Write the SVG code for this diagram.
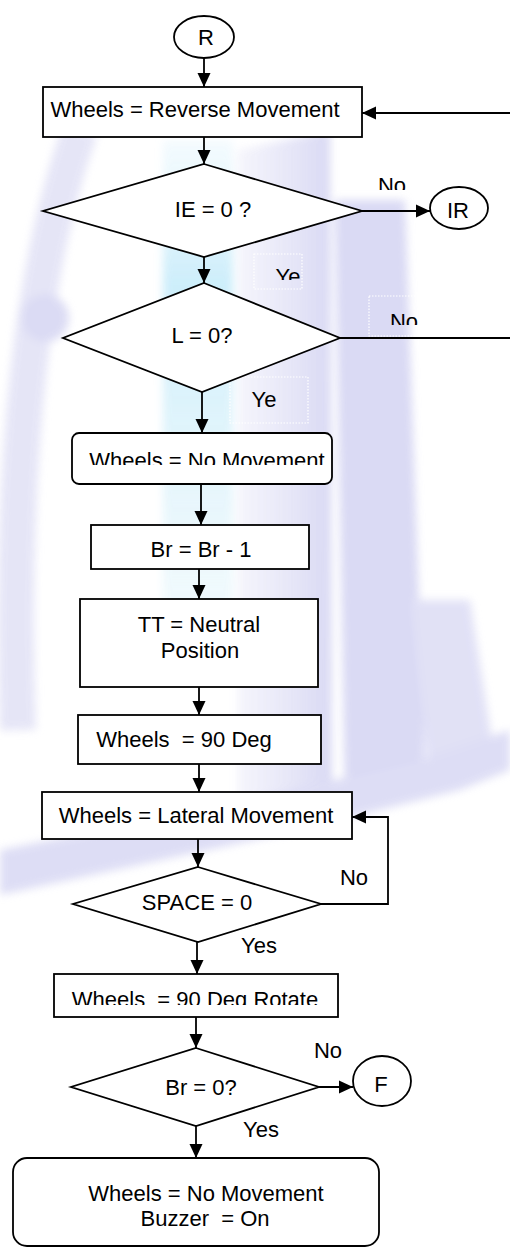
<svg xmlns="http://www.w3.org/2000/svg" width="510" height="1248" viewBox="0 0 510 1248">
<style>
.shape{fill:#fff;stroke:#000;stroke-width:1.8}
.con{fill:none;stroke:#000;stroke-width:1.8}
.arr{marker-end:url(#ah)}
text{font-family:"Liberation Sans",Arial,sans-serif;font-size:22px;fill:#000;text-anchor:middle;white-space:pre}
.dot{fill:none;stroke:#fff;stroke-width:1.2;stroke-dasharray:1.5 1.5}
</style>
<defs>
<marker id="ah" markerUnits="userSpaceOnUse" markerWidth="14" markerHeight="14" refX="14" refY="7" orient="auto"><path d="M0,0.5 L14,7 L0,13.5 z" fill="#000"/></marker>
<linearGradient id="blue" x1="0" y1="0" x2="0" y2="1"><stop offset="0" stop-color="#d6f0fb" stop-opacity="0.3"/><stop offset="0.3" stop-color="#c8ecfa"/><stop offset="1" stop-color="#e2f4fb" stop-opacity="0.5"/></linearGradient>
<linearGradient id="purp" x1="0" y1="0" x2="1" y2="0"><stop offset="0" stop-color="#e2e2f6" stop-opacity="0.4"/><stop offset="1" stop-color="#d4d4f2"/></linearGradient>
<filter id="soft" x="-20%" y="-20%" width="140%" height="140%"><feGaussianBlur stdDeviation="4"/></filter>
<clipPath id="c1"><rect x="360" y="170" width="60" height="20"/></clipPath>
<clipPath id="c2"><rect x="255" y="255" width="46" height="25"/></clipPath>
<clipPath id="c3"><rect x="370" y="297" width="60" height="28"/></clipPath>
<clipPath id="c4"><rect x="72" y="440" width="260" height="25"/></clipPath>
<clipPath id="c5"><rect x="54" y="980" width="284" height="25"/></clipPath>
</defs>
<rect width="510" height="1248" fill="#fff"/>
<g id="watermark" opacity="0.9" filter="url(#soft)">
<path d="M80,130 Q5,340 18,730" fill="none" stroke="#e3e3f6" stroke-width="36"/>
<circle cx="45" cy="318" r="24" fill="#d8d8f3"/>
<rect x="163" y="140" width="70" height="480" fill="url(#blue)"/>
<polygon points="238,150 330,130 332,820 238,830" fill="url(#purp)"/>
<polygon points="335,200 405,200 425,780 345,800" fill="#d6d6f3"/>
<polygon points="410,600 470,600 495,760 430,790" fill="#dedef5"/>
<polygon points="0,850 0,895 300,830 460,790 510,770 510,730 420,760 250,800" fill="#dadaf4"/>
</g>
<g id="connectors">
<path class="con arr" d="M204,58 V87"/>
<path class="con arr" d="M340,338 H520 V113 H362"/>
<path class="con arr" d="M204,137 V164"/>
<path class="con arr" d="M362,211 H430"/>
<path class="con arr" d="M204,257 V283"/>
<path class="con arr" d="M202,392 V433"/>
<path class="con arr" d="M201,484 V525"/>
<path class="con arr" d="M199,569 V599"/>
<path class="con arr" d="M199,687 V715"/>
<path class="con arr" d="M199,764 V792"/>
<path class="con arr" d="M198,839 V867"/>
<path class="con arr" d="M321,904 H388 V817 H352"/>
<path class="con arr" d="M197,942 V974"/>
<path class="con arr" d="M196,1017 V1048"/>
<path class="con arr" d="M319,1087 H353"/>
<path class="con arr" d="M196,1126 V1158"/>
</g>
<g id="labels">
<text x="392" y="193" clip-path="url(#c1)">No</text>
<rect class="dot" x="254" y="254" width="48" height="35"/>
<text x="288" y="284" clip-path="url(#c2)">Ye</text>
<rect class="dot" x="369" y="296" width="60" height="40"/>
<text x="404" y="329" clip-path="url(#c3)">No</text>
<rect class="dot" x="230" y="377" width="78" height="46"/>
<text x="264" y="407">Ye</text>
<text x="354" y="885">No</text>
<text x="259" y="953">Yes</text>
<text x="328" y="1058">No</text>
<text x="261" y="1137">Yes</text>
</g>
<g id="n-R"><ellipse class="shape" cx="204" cy="37" rx="30" ry="21"/><text x="206" y="45">R</text></g>
<g id="n-reverse"><rect class="shape" x="43" y="87" width="319" height="50"/><text x="195" y="117">Wheels = Reverse Movement</text></g>
<g id="n-ie"><polygon class="shape" points="204,164 362,211 204,257 43,211"/><text x="213" y="217">IE = 0 ?</text></g>
<g id="n-IR"><ellipse class="shape" cx="459" cy="208" rx="29" ry="21"/><text x="458" y="218">IR</text></g>
<g id="n-L"><polygon class="shape" points="204,283 340,338 202,392 63,338"/><text x="202" y="343">L = 0?</text></g>
<g id="n-nomove"><rect class="shape" x="72" y="433" width="260" height="51" rx="7"/><text x="207" y="468" clip-path="url(#c4)">Wheels = No Movement</text></g>
<g id="n-br"><rect class="shape" x="91" y="525" width="218" height="44"/><text x="201" y="557">Br = Br - 1</text></g>
<g id="n-tt"><rect class="shape" x="80" y="599" width="238" height="88"/><text x="199" y="632">TT = Neutral</text><text x="200" y="658">Position</text></g>
<g id="n-90"><rect class="shape" x="78" y="715" width="243" height="49"/><text x="184" y="747">Wheels  = 90 Deg</text></g>
<g id="n-lateral"><rect class="shape" x="42" y="792" width="310" height="47"/><text x="196" y="823">Wheels = Lateral Movement</text></g>
<g id="n-space"><polygon class="shape" points="198,867 321,904 198,942 73,904"/><text x="197" y="910">SPACE = 0</text></g>
<g id="n-rotate"><rect class="shape" x="54" y="974" width="284" height="43"/><text x="195" y="1007" clip-path="url(#c5)">Wheels  = 90 Deg Rotate</text></g>
<g id="n-br0"><polygon class="shape" points="196,1048 319,1087 196,1126 71,1087"/><text x="201" y="1095">Br = 0?</text></g>
<g id="n-F"><ellipse class="shape" cx="382" cy="1081" rx="29" ry="25"/><text x="381" y="1092">F</text></g>
<g id="n-final"><rect class="shape" x="13" y="1158" width="366" height="88" rx="14"/><text x="206" y="1201">Wheels = No Movement</text><text x="205" y="1226">Buzzer  = On</text></g>
</svg>
